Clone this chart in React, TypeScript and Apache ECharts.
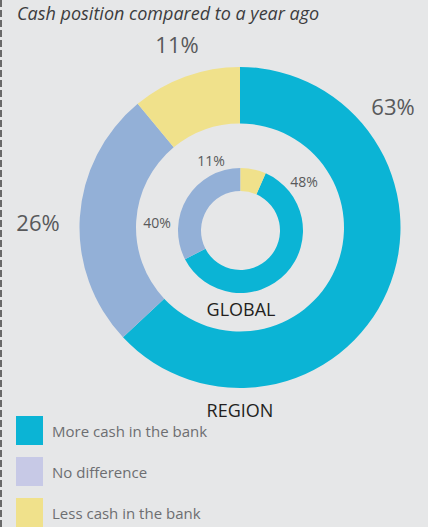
import React, { useEffect, useRef } from "react";
import * as echarts from "echarts";

const categories = ["More cash in the bank", "No difference", "Less cash in the bank"];
const regionValues = [63, 26, 11];
// proportions as drawn in the reference's inner ring
const globalValues = [60.8, 32.6, 6.6];
const regionLabels = ["63%", "26%", "11%"];
const globalLabels = ["48%", "40%", "11%"];
const ringColors = ["#0bb4d5", "#93b0d7", "#f0e18b"];
const legendColors = ["#0bb4d5", "#c7c9e6", "#f0e18b"];
const titleText = "Cash position compared to a year ago";

const regionLabelPos = [[393, 106], [38, 222], [177, 44]];
const globalLabelPos = [[304, 181], [157, 222], [211, 160]];

export default function App() {
  const ref = useRef<HTMLDivElement>(null);
  useEffect(() => {
    if (!ref.current) return;
    const chart = echarts.init(ref.current, null, { renderer: "svg" });
    const font = "'Open Sans', 'Noto Sans', sans-serif";
    const gSum = globalValues.reduce((a, b) => a + b, 0);
    const globalStart = 90 - (globalValues[2] / gSum) * 360;

    const labelTexts: any[] = [];
    regionLabels.forEach((t, i) => {
      labelTexts.push({
        type: "text",
        x: regionLabelPos[i][0],
        y: regionLabelPos[i][1],
        style: { text: t, fill: "#58595b", font: `22px ${font}`, align: "center", verticalAlign: "middle" },
      });
    });
    globalLabels.forEach((t, i) => {
      labelTexts.push({
        type: "text",
        x: globalLabelPos[i][0],
        y: globalLabelPos[i][1],
        style: { text: t, fill: "#58595b", font: `14px ${font}`, align: "center", verticalAlign: "middle" },
      });
    });

    chart.setOption({
      animation: false,
      backgroundColor: "#e6e7e8",
      title: {
        text: titleText,
        left: 17,
        top: 4,
        padding: 0,
        textStyle: { fontFamily: font, fontStyle: "italic", fontWeight: "normal", fontSize: 18, color: "#3c3c3e" },
      },
      legend: {
        orient: "vertical",
        left: 16,
        top: 416,
        padding: 0,
        itemWidth: 27,
        itemHeight: 29,
        itemGap: 12,
        selectedMode: false,
        icon: "rect",
        textStyle: { fontFamily: font, fontSize: 15, color: "#6d6e71", padding: [4, 0, 0, 4] },
        data: categories.map((c, i) => ({ name: c, itemStyle: { color: legendColors[i] } })),
      },
      graphic: [
        {
          type: "line",
          shape: { x1: 1, y1: 0, x2: 1, y2: 527 },
          style: { stroke: "#6a6a6a", lineWidth: 2, lineDash: [7, 3] },
        },
        ...labelTexts,
        {
          type: "text",
          x: 241,
          y: 309,
          style: { text: "GLOBAL", fill: "#231f20", font: `18px ${font}`, align: "center", verticalAlign: "middle" },
        },
        {
          type: "text",
          x: 240,
          y: 410,
          style: { text: "REGION", fill: "#231f20", font: `18px ${font}`, align: "center", verticalAlign: "middle" },
        },
      ],
      series: [
        {
          type: "pie",
          name: "Region",
          center: [240, 227.5],
          radius: [104, 160.5],
          startAngle: 90,
          clockwise: true,
          label: { show: false },
          labelLine: { show: false },
          emphasis: { disabled: true },
          data: categories.map((c, i) => ({ name: c, value: regionValues[i], itemStyle: { color: ringColors[i] } })),
        },
        {
          type: "pie",
          name: "Global",
          center: [240.5, 230.5],
          radius: [39.5, 62.5],
          startAngle: globalStart,
          clockwise: true,
          label: { show: false },
          labelLine: { show: false },
          emphasis: { disabled: true },
          data: categories.map((c, i) => ({ name: c, value: globalValues[i], itemStyle: { color: ringColors[i] } })),
        },
      ],
    });
    return () => chart.dispose();
  }, []);
  return <div ref={ref} style={{ position: "absolute", left: 0, top: 0, width: 428, height: 527 }} />;
}
